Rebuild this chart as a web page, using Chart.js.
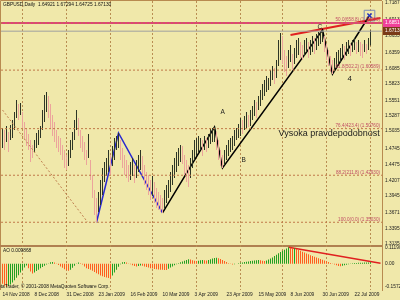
<!DOCTYPE html>
<html>
<head>
<meta charset="utf-8">
<script src="https://cdn.jsdelivr.net/npm/chart.js@4.4.0/dist/chart.umd.min.js"></script>
<style>
  html, body { margin: 0; padding: 0; background: #f0e8aa; }
  #wrap { width: 400px; height: 300px; }
</style>
</head>
<body>
<div id="wrap"><canvas id="chart" width="400" height="300"></canvas></div>
<script>
// GBPUSD daily bars, 14 Nov 2008 .. early Aug 2009 (bar index 0..184)
const highs = [
  1.5087, 1.5053, 1.5120, 1.5019, 1.5137, 1.5221, 1.5355, 1.5557, 1.5490, 1.5507,
  1.5355, 1.5187, 1.5087, 1.4986, 1.4885, 1.4801, 1.4885, 1.5003, 1.5053, 1.5120,
  1.5389, 1.5641, 1.5691, 1.5624, 1.5490, 1.5305, 1.5187, 1.5053, 1.4952, 1.4919,
  1.4801, 1.4717, 1.4633, 1.4717, 1.4885, 1.5019, 1.5221, 1.5389, 1.5255, 1.5053,
  1.4952, 1.4851, 1.4717, 1.4986, 1.4549, 1.4297, 1.4045, 1.3911, 1.4011, 1.4213,
  1.4415, 1.4515, 1.4583, 1.4717, 1.4633, 1.4784, 1.4919, 1.4952, 1.5003, 1.4885,
  1.4751, 1.4633, 1.4549, 1.4465, 1.4515, 1.4583, 1.4465, 1.4549, 1.4633, 1.4717,
  1.4616, 1.4465, 1.4347, 1.4297, 1.4213, 1.4280, 1.4179, 1.4079, 1.4011, 1.3961,
  1.3911, 1.4045, 1.4129, 1.4213, 1.4347, 1.4465, 1.4583, 1.4683, 1.4751, 1.4801,
  1.4784, 1.4633, 1.4549, 1.4465, 1.4583, 1.4717, 1.4885, 1.4919, 1.4952, 1.4919,
  1.4885, 1.4952, 1.4919, 1.4986, 1.5087, 1.5087, 1.5103, 1.5019, 1.4885, 1.4717,
  1.4633, 1.4717, 1.4801, 1.4885, 1.4919, 1.4952, 1.5053, 1.5087, 1.5154, 1.5255,
  1.5221, 1.5288, 1.5355, 1.5305, 1.5389, 1.5456, 1.5557, 1.5523, 1.5624, 1.5725,
  1.5826, 1.5893, 1.5960, 1.5927, 1.6061, 1.6128, 1.6095, 1.6229, 1.6565, 1.6683,
  1.6632, 1.6397, 1.6296, 1.6397, 1.6481, 1.6330, 1.6431, 1.6565, 1.6599, 1.6531,
  1.6481, 1.6565, 1.6599, 1.6531, 1.6565, 1.6632, 1.6599, 1.6666, 1.6699, 1.6716,
  1.6733, 1.6632, 1.6498, 1.6397, 1.6296, 1.6229, 1.6263, 1.6363, 1.6397, 1.6431,
  1.6498, 1.6464, 1.6531, 1.6565, 1.6498, 1.6565, 1.6599, 1.6531, 1.6565, 1.6531,
  1.6498, 1.6565, 1.6498, 1.6599, 1.67294
]
const lows = [
  1.4751, 1.4717, 1.4851, 1.4683, 1.4885, 1.4919, 1.5053, 1.5255, 1.5221, 1.5305,
  1.5087, 1.4885, 1.4784, 1.4717, 1.4515, 1.4583, 1.4683, 1.4751, 1.4801, 1.4919,
  1.5053, 1.5187, 1.5355, 1.5255, 1.5087, 1.4952, 1.4851, 1.4751, 1.4683, 1.4633,
  1.4549, 1.4415, 1.4381, 1.4448, 1.4583, 1.4717, 1.4885, 1.5053, 1.4952, 1.4751,
  1.4683, 1.4549, 1.4465, 1.4583, 1.4213, 1.3911, 1.3625, 1.3503, 1.3675, 1.3793,
  1.3961, 1.4179, 1.4280, 1.4347, 1.4297, 1.4448, 1.4549, 1.4717, 1.4751, 1.4549,
  1.4415, 1.4297, 1.4247, 1.4179, 1.4213, 1.4280, 1.4163, 1.4247, 1.4347, 1.4381,
  1.4280, 1.4129, 1.4045, 1.3961, 1.3877, 1.3944, 1.3827, 1.3743, 1.3709, 1.3675,
  1.3659, 1.3743, 1.3827, 1.3911, 1.4011, 1.4129, 1.4247, 1.4347, 1.4448, 1.4515,
  1.4482, 1.4297, 1.4179, 1.4095, 1.4247, 1.4415, 1.4549, 1.4616, 1.4683, 1.4717,
  1.4616, 1.4717, 1.4683, 1.4751, 1.4818, 1.4851, 1.4851, 1.4717, 1.4549, 1.4448,
  1.4415, 1.4465, 1.4549, 1.4616, 1.4683, 1.4717, 1.4784, 1.4885, 1.4919, 1.4952,
  1.4986, 1.5053, 1.5087, 1.5103, 1.5120, 1.5221, 1.5288, 1.5255, 1.5389, 1.5456,
  1.5557, 1.5624, 1.5691, 1.5725, 1.5792, 1.5893, 1.5826, 1.5927, 1.6128, 1.6229,
  1.6162, 1.6027, 1.5960, 1.6095, 1.6195, 1.6061, 1.6162, 1.6263, 1.6313, 1.6263,
  1.6229, 1.6296, 1.6363, 1.6263, 1.6313, 1.6363, 1.6330, 1.6397, 1.6464, 1.6498,
  1.6531, 1.6363, 1.6229, 1.6128, 1.6027, 1.5994, 1.6027, 1.6128, 1.6162, 1.6195,
  1.6263, 1.6229, 1.6296, 1.6330, 1.6296, 1.6363, 1.6397, 1.6330, 1.6363, 1.6296,
  1.6263, 1.6363, 1.6330, 1.6397, 1.64725
]
// Awesome Oscillator, one value per bar
const aoValues = [
  -0.135, -0.150, -0.1573, -0.150, -0.140, -0.128, -0.112, -0.095, -0.078, -0.060,
  -0.042, -0.025, -0.012, -0.030, -0.052, -0.066, -0.060, -0.050, -0.040, -0.031,
  -0.022, -0.014, -0.006, 0.002, 0.010, 0.012, 0.008, 0.001, -0.008, -0.018,
  -0.028, -0.037, -0.044, -0.048, -0.040, -0.028, -0.014, -0.002, 0.008, 0.004,
  -0.006, -0.018, -0.030, -0.036, -0.040, -0.048, -0.056, -0.064, -0.072, -0.079,
  -0.085, -0.090, -0.094, -0.097, -0.098, -0.080, -0.060, -0.040, -0.020, -0.003,
  0.010, 0.012, 0.008, 0.002, -0.004, -0.010, -0.015, -0.018, -0.015, -0.012,
  -0.014, -0.018, -0.022, -0.026, -0.030, -0.033, -0.036, -0.038, -0.039, -0.040,
  -0.041, -0.042, -0.043, -0.034, -0.026, -0.018, -0.010, -0.003, 0.004, 0.010,
  0.016, 0.021, 0.026, 0.030, 0.028, 0.024, 0.020, 0.018, 0.021, 0.024,
  0.026, 0.024, 0.022, 0.025, 0.030, 0.035, 0.039, 0.041, 0.038, 0.032,
  0.025, 0.018, 0.011, 0.004, -0.002, -0.005, -0.003, 0.000, 0.003, 0.006,
  0.009, 0.012, 0.014, 0.016, 0.018, 0.020, 0.022, 0.024, 0.025, 0.023,
  0.021, 0.019, 0.022, 0.028, 0.035, 0.043, 0.052, 0.061, 0.071, 0.080,
  0.088, 0.095, 0.103, 0.1119, 0.108, 0.104, 0.105, 0.100, 0.094, 0.088,
  0.082, 0.076, 0.070, 0.064, 0.058, 0.052, 0.047, 0.042, 0.037, 0.032,
  0.027, 0.022, 0.017, 0.011, 0.005, -0.001, -0.006, -0.011, -0.015, -0.017,
  -0.014, -0.010, -0.007, -0.004, -0.001, 0.0025, 0.0042, 0.0052, 0.0060, 0.0066,
  0.0072, 0.0078, 0.0085, 0.0092, 0.0099
]

const priceTicks = [1.71870, 1.69130, 1.66330, 1.63590, 1.60850, 1.58235, 1.55510, 1.52870,
  1.50350, 1.47450, 1.44750, 1.42070, 1.39450, 1.36710, 1.33950, 1.31350]
const aoTicks = [0.111902, 0, -0.15729]
const aoTickLabels = ['0.111902', '0.00', '-0.15729']
const dateTicks = [0, 16, 32, 48, 64, 80, 96, 112, 128, 144, 160, 176]
const dateLabels = ['14 Nov 2008', '8 Dec 2008', '31 Dec 2008', '23 Jan 2009', '16 Feb 2009',
  '10 Mar 2009', '3 Apr 2009', '23 Apr 2009', '15 May 2009', '8 Jun 2009', '30 Jun 2009', '22 Jul 2009']
const gridBars = [10, 32, 54, 75, 97, 119, 140, 162, 184]

// drawn objects
const blueZig = [[47, 1.3503], [58, 1.5003], [80, 1.3659]]
const blackZig = [[80, 1.3659], [106, 1.5103], [110, 1.4415], [160, 1.6733], [165, 1.5994], [183, 1.6951]]
const topTrend = [[144, 1.6649], [189, 1.6935]]
const fibDiag = [[0, 1.5389], [42.5, 1.3507]]
const fibLevels = [1.6851, 1.6059, 1.5076, 1.4293, 1.3503]
const fibNames = ['50.0(658.8) (1.68490)', '61.8(502.2) (1.60589)', '76.4(423.4) (1.50760)',
  '88.2(211.8) (1.42930)', '100.0(0.0) (1.35030)']
const pinkLevel = 1.6851
const bidLevel = 1.6713
const target = [183.5, 1.6975]
const aoTrend = [[143, 0.1119], [189, 0.004]]
const notes = [
  [109, 1.535, 'A', 6.5], [119.5, 1.455, 'B', 6.5], [157.5, 1.678, 'C', 6.5],
  [172.5, 1.592, '4', 8], [138, 1.4986, 'Vysoka pravdepodobnost', 9]
]

const BG = '#f0e8aa'
const FRAME = '#b88a50'
const GRID = '#b98d52'
const FONT = "'Liberation Sans', Arial, sans-serif"
const XMIN = -0.75
const XMAX = 189.75

const barColors = highs.map((h, i) =>
  i > 0 && h + lows[i] < highs[i - 1] + lows[i - 1] ? '#eca49c' : '#2e3626')
const aoColors = aoValues.map((v, i) => (i > 0 && v >= aoValues[i - 1] ? '#22a022' : '#ff5c20'))

const pts = (arr) => arr.map(([x, y]) => ({ x, y }))
const lineDs = (data, color, width, axis, dash) => ({
  type: 'line',
  data: pts(data),
  yAxisID: axis,
  borderColor: color,
  borderWidth: width,
  borderDash: dash || [],
  pointRadius: 0,
  fill: false,
  tension: 0
})

const datasets = []
fibLevels.forEach((lv) => datasets.push(lineDs([[XMIN, lv], [XMAX, lv]], '#c07848', 1, 'y', [2, 2])))
datasets.push(lineDs(fibDiag, '#c08050', 1, 'y', [2, 2]))
datasets.push(lineDs([[XMIN, bidLevel], [XMAX, bidLevel]], '#a0a0a0', 1, 'y'))
datasets.push(lineDs([[XMIN, pinkLevel], [XMAX, pinkLevel]], '#e0407a', 2, 'y'))
datasets.push({
  type: 'bar',
  data: highs.map((h, i) => ({ x: i, y: [lows[i], h] })),
  yAxisID: 'y',
  backgroundColor: barColors,
  borderWidth: 0,
  grouped: false,
  maxBarThickness: 1,
  inflateAmount: 0
})
datasets.push(lineDs(blueZig, '#2828d0', 1.5, 'y'))
datasets.push(lineDs(blackZig, '#000000', 1.5, 'y'))
datasets.push(lineDs(topTrend, '#e02020', 2, 'y'))
datasets.push({
  type: 'line',
  data: pts([target]),
  yAxisID: 'y',
  showLine: false,
  pointStyle: 'rect',
  pointRadius: 7.5,
  pointBorderColor: '#7888b8',
  pointBackgroundColor: 'rgba(0,0,0,0)',
  pointBorderWidth: 1
})
datasets.push({
  type: 'line',
  data: pts([target]),
  yAxisID: 'y',
  showLine: false,
  pointStyle: 'crossRot',
  pointRadius: 3,
  pointBorderColor: '#2030c0',
  pointBorderWidth: 1.5
})
datasets.push({
  type: 'bar',
  data: aoValues.map((v, i) => ({ x: i, y: v })),
  yAxisID: 'ya',
  backgroundColor: aoColors,
  borderWidth: 0,
  grouped: false,
  maxBarThickness: 1,
  inflateAmount: 0
})
datasets.push(lineDs(aoTrend, '#e02020', 1.5, 'ya'))

function text(ctx, str, x, y, size, color, align) {
  ctx.font = size + 'px ' + FONT
  ctx.fillStyle = color
  ctx.textAlign = align || 'left'
  ctx.textBaseline = 'middle'
  ctx.fillText(str, x, y)
}

// keep axes from pushing the plot area in for half-label padding
function noPad(s) {
  s.paddingTop = 0
  s.paddingBottom = 0
  s.paddingLeft = 0
  s.paddingRight = 0
}

const mtPlugin = {
  id: 'mt',
  beforeDraw(chart) {
    const { ctx, chartArea: a, scales } = chart
    ctx.save()
    ctx.fillStyle = BG
    ctx.fillRect(0, 0, chart.width, chart.height)
    ctx.strokeStyle = FRAME
    ctx.lineWidth = 1
    ctx.beginPath()
    ctx.moveTo(0.5, a.bottom)
    ctx.lineTo(0.5, 0.5)
    ctx.lineTo(a.right, 0.5)
    ctx.stroke()
    ctx.fillStyle = '#b08050'
    ctx.fillRect(0, scales.ya.top, a.right + 1, 2)
    ctx.restore()
  },
  afterDatasetsDraw(chart) {
    const { ctx, chartArea: a, scales } = chart
    const x = scales.x
    const y = scales.y
    ctx.save()
    fibLevels.forEach((lv, i) => {
      text(ctx, fibNames[i], a.right - 2, y.getPixelForValue(lv) - 3, 4.6, '#c04c64', 'right')
    })
    notes.forEach(([bx, p, s, size]) => {
      text(ctx, s, x.getPixelForValue(bx), y.getPixelForValue(p), size, '#1c1c1c', 'left')
    })
    text(ctx, 'GBPUSD,Daily  1.64921 1.67294 1.64725 1.67130', 3, 5, 4.8, '#101010')
    text(ctx, 'AO 0.009868', 3, scales.ya.top + 6, 4.8, '#101010')
    text(ctx, 'MetaTrader, \u00a9 2001-2008 MetaQuotes Software Corp.', -6, a.bottom - 3, 4.8, '#101010')
    ctx.restore()
  },
  afterDraw(chart) {
    const { ctx, scales } = chart
    const y = scales.y
    const left = y.left + 1
    ctx.save()
    const box = (v, fill, label) => {
      const py = Math.round(y.getPixelForValue(v))
      ctx.fillStyle = fill
      ctx.fillRect(left, py - 4, chart.width - left, 8)
      text(ctx, label, left + 2, py, 4.8, '#ffffff')
    }
    box(pinkLevel, '#f0409a', '1.68510')
    box(bidLevel, '#7a3a18', '1.67130')
    ctx.restore()
  }
}

const tickFont = { family: FONT, size: 4.8 }

new Chart(document.getElementById('chart'), {
  type: 'bar',
  data: { datasets },
  plugins: [mtPlugin],
  options: {
    responsive: false,
    animation: false,
    events: [],
    layout: { autoPadding: false, padding: { left: 1, top: 1, right: 0, bottom: 0 } },
    plugins: { legend: { display: false }, tooltip: { enabled: false } },
    scales: {
      x: {
        type: 'linear',
        min: XMIN,
        max: XMAX,
        offset: false,
        position: 'bottom',
        grid: { display: false, drawTicks: false, offset: false },
        border: { display: false },
        afterBuildTicks: (s) => { s.ticks = dateTicks.map((v) => ({ value: v })) },
        afterFit: (s) => { s.height = 10; noPad(s) },
        ticks: {
          autoSkip: false,
          maxRotation: 0,
          align: 'start',
          padding: 2,
          color: '#202020',
          font: tickFont,
          callback: (v, i) => dateLabels[i]
        }
      },
      xg: {
        type: 'linear',
        min: XMIN,
        max: XMAX,
        offset: false,
        position: 'bottom',
        grid: { color: GRID, lineWidth: 1, drawTicks: false, offset: false },
        border: { display: false, dash: [2, 2] },
        ticks: { display: false },
        afterBuildTicks: (s) => { s.ticks = gridBars.map((v) => ({ value: v })) },
        afterFit: (s) => { s.height = 0; noPad(s) }
      },
      y: {
        position: 'right',
        stack: 'mt',
        stackWeight: 244,
        min: 1.3121,
        max: 1.7220,
        grid: { display: false, drawTicks: false },
        border: { color: FRAME },
        afterBuildTicks: (s) => { s.ticks = priceTicks.map((v) => ({ value: v })) },
        afterFit: (s) => { s.width = 18; noPad(s) },
        ticks: {
          autoSkip: false,
          padding: 3,
          color: '#202020',
          font: tickFont,
          callback: (v) => v.toFixed(5)
        }
      },
      ya: {
        position: 'right',
        stack: 'mt',
        stackWeight: 45,
        min: -0.178,
        max: 0.127,
        grid: { display: false, drawTicks: false },
        border: { color: FRAME },
        afterBuildTicks: (s) => { s.ticks = aoTicks.map((v) => ({ value: v })) },
        afterFit: (s) => { s.width = 18; noPad(s) },
        ticks: {
          autoSkip: false,
          padding: 3,
          color: '#202020',
          font: tickFont,
          callback: (v, i) => aoTickLabels[i]
        }
      }
    }
  }
})
</script>
</body>
</html>
